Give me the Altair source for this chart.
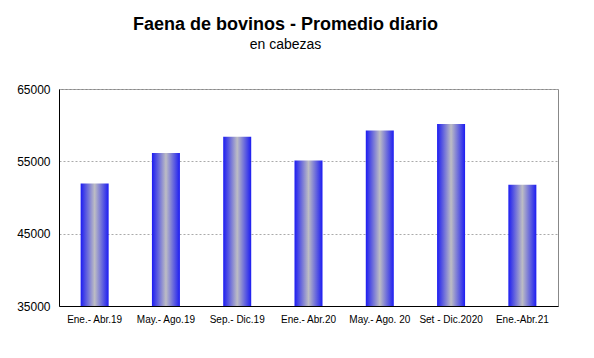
import altair as alt
import pandas as pd

periodos = ["Ene.- Abr.19", "May.- Ago.19", "Sep.- Dic.19", "Ene.- Abr.20",
            "May.- Ago. 20", "Set - Dic.2020", "Ene.-Abr.21"]
promedio = [51950, 56150, 58400, 55100, 59250, 60150, 51750]

df = pd.DataFrame({"periodo": periodos, "cabezas": promedio})

grad = alt.Gradient(
    gradient="linear",
    stops=[alt.GradientStop(color="#1c1cf2", offset=0),
           alt.GradientStop(color="#bdbdc4", offset=0.5),
           alt.GradientStop(color="#1c1cf2", offset=1)],
    x1=0, x2=1, y1=0, y2=0,
)

chart = alt.Chart(df).mark_bar(size=28, color=grad, clip=True).encode(
    x=alt.X("periodo:N", sort=periodos, title=None,
            scale=alt.Scale(paddingInner=0, paddingOuter=0),
            axis=alt.Axis(labelAngle=0, labelFontSize=10, labelColor="black",
                          labelFont="Liberation Sans", ticks=False,
                          domainColor="black", labelPadding=8)),
    y=alt.Y("cabezas:Q", title=None,
            scale=alt.Scale(domain=[35000, 65000], nice=False, zero=False),
            axis=alt.Axis(values=[35000, 45000, 55000, 65000], format="d",
                          labelFontSize=12, labelColor="black",
                          labelFont="Liberation Sans", ticks=False,
                          domainColor="black", labelPadding=9,
                          gridColor="#aaaaaa", gridDash=[2, 2], gridWidth=1)),
).properties(
    width=499, height=217,
    autosize=alt.AutoSizeParams(type="none"),
    padding={"left": 51, "top": 81, "right": 20, "bottom": 40},
    background="white",
    title=alt.TitleParams(
        text="Faena de bovinos - Promedio diario",
        subtitle="en cabezas",
        font="Liberation Sans", fontSize=18, fontWeight="bold", color="black",
        subtitleFont="Liberation Sans", subtitleFontSize=14, subtitleColor="black",
        subtitlePadding=4, anchor="middle", dx=-23, offset=31,
    ),
).configure_view(stroke="#888888", strokeWidth=1)

chart.save("out.html", embed_options={"renderer": "svg", "actions": False})
